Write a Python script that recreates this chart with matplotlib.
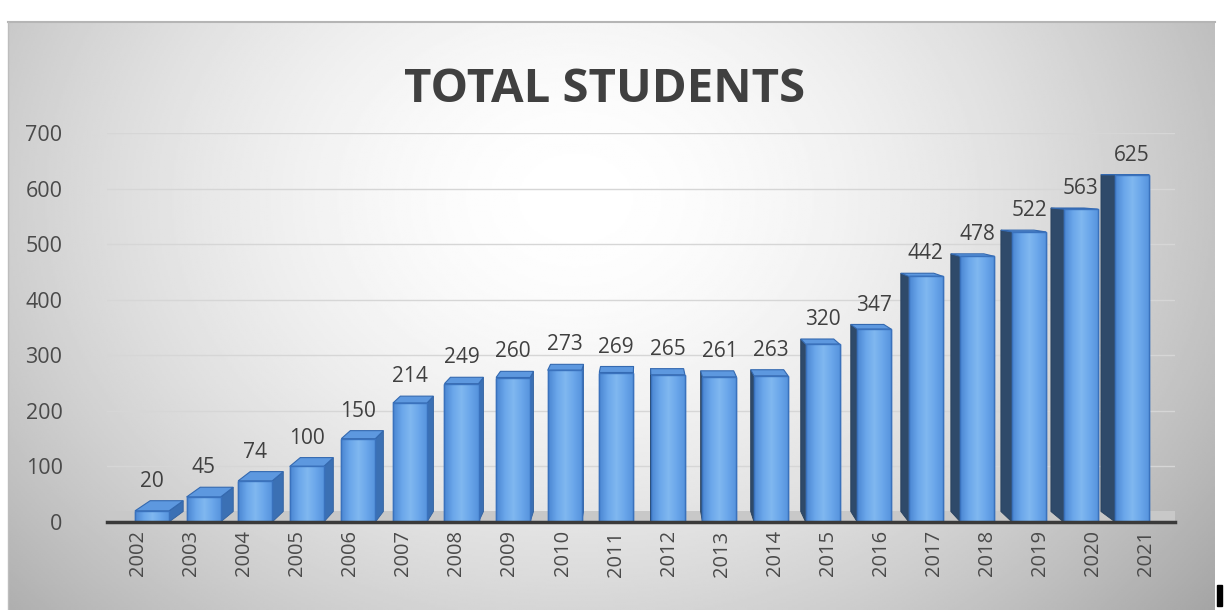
import numpy as np
import matplotlib.pyplot as plt
from matplotlib.colors import LinearSegmentedColormap
from matplotlib.patches import Polygon, Rectangle
from matplotlib.lines import Line2D

# data
years = ['2002', '2003', '2004', '2005', '2006', '2007', '2008', '2009', '2010', '2011',
         '2012', '2013', '2014', '2015', '2016', '2017', '2018', '2019', '2020', '2021']
students = [20, 45, 74, 100, 150, 214, 249, 260, 273, 269,
            265, 261, 263, 320, 347, 442, 478, 522, 563, 625]
yticks = [0, 100, 200, 300, 400, 500, 600, 700]

plt.rcParams['font.family'] = ['Open Sans', 'DejaVu Sans']

fig = plt.figure(figsize=(12.24, 6.10), dpi=100)
fig.patch.set_facecolor('white')

# soft grey background with a white centre, like the Excel chart area
bg = fig.add_axes([8 / 1224, 0, 1207 / 1224, 588 / 610])
yy, xx = np.mgrid[0:1:300j, 0:1:600j]
r = np.sqrt(((xx - 0.47) / 0.58) ** 2 + ((yy - 0.3) / 0.95) ** 2)
shade = 1 - 0.27 * np.clip(r, 0, 1.2) ** 1.7
bg.imshow(shade, cmap='gray', vmin=0, vmax=1, aspect='auto', extent=[0, 1, 1, 0])
bg.set_xlim(0, 1)
bg.set_ylim(1, 0)
bg.axis('off')

ax = fig.add_axes([107 / 1224, 1 - 522 / 610, 1068 / 1224, 389 / 610])
ax.patch.set_alpha(0)
ax.set_xlim(-0.872, 19.83)
ax.set_ylim(0, 700)

# fake 3d: faces recede toward a vanishing point
k = 0.03
vp = (9.5, 630)
w = 0.66


def back(x, y):
    return x + k * (vp[0] - x), y + k * (vp[1] - y)


# grid and floor
for t in yticks[1:]:
    ax.axhline(t, color='#d6d6d6', lw=1, zorder=0.5)
ax.axhspan(0, k * vp[1], color='#c8c8c8', zorder=0.6, lw=0)

front_cmap = LinearSegmentedColormap.from_list(
    'front', ['#4a86d2', '#6aa6ea', '#80b8f0', '#6aa6ea', '#5592dc'])
grad = np.linspace(0, 1, 64).reshape(1, -1)

for i, v in enumerate(students):
    xl, xr = i - w / 2, i + w / 2
    if vp[0] > xr:
        pts = [(xr, 0), (xr, v), back(xr, v), back(xr, 0)]
        ax.add_patch(Polygon(pts, closed=True, fc='#3b70b4', ec='#2f5f9e', lw=0.6, zorder=2))
    elif vp[0] < xl:
        pts = [(xl, 0), (xl, v), back(xl, v), back(xl, 0)]
        ax.add_patch(Polygon(pts, closed=True, fc='#2f4a6a', ec='#27405d', lw=0.6, zorder=2))
    if v < vp[1]:
        pts = [(xl, v), (xr, v), back(xr, v), back(xl, v)]
        ax.add_patch(Polygon(pts, closed=True, fc='#5d98df', ec='#3469b0', lw=0.8, zorder=2))
    bar = ax.bar(i, v, w, color='#5f9be2', edgecolor='#3a72bd', lw=1, zorder=3)[0]
    im = ax.imshow(grad, cmap=front_cmap, aspect='auto', extent=[xl, xr, 0, v], zorder=3.1)
    im.set_clip_path(bar)
    ax.add_patch(Rectangle((xl, 0), w, v, fill=False, ec='#3a72bd', lw=1, zorder=3.2))
    ax.annotate(str(v), (i, back(i, v)[1]), xytext=(0, 14), textcoords='offset points',
                ha='center', va='center', fontsize=15, color='#404040', zorder=5)

ax.set_xlim(-0.872, 19.83)
ax.set_ylim(0, 700)

ax.axhline(0, color='#3a3a3a', lw=2.5, zorder=4, clip_on=False)

label_pos = [i + (i - 9.5) * 0.0284 for i in range(len(years))]
ax.set_xticks(label_pos)
ax.set_xticklabels(years, rotation=90)
ax.set_yticks(yticks)
ax.tick_params(axis='x', length=0, pad=6, labelsize=14.5, labelcolor='#4a4a4a')
ax.tick_params(axis='y', length=0, pad=32, labelsize=15.5, labelcolor='#4a4a4a')
for s in ax.spines.values():
    s.set_visible(False)

fig.text(605 / 1224, 1 - 89 / 610, 'TOTAL STUDENTS', ha='center', va='center',
         fontsize=34, fontweight='bold', color='#404040')

# frame details
fig.add_artist(Line2D([8 / 1224, 1215 / 1224], [1 - 22 / 610] * 2, color='#b5b5b5', lw=1.5))
fig.add_artist(Line2D([8 / 1224] * 2, [0, 1 - 22 / 610], color='#bdbdbd', lw=1))
fig.add_artist(Rectangle((1217 / 1224, 4 / 610), 5 / 1224, 21 / 610,
                         transform=fig.transFigure, color='black'))

fig.savefig('out.png', dpi=100)
